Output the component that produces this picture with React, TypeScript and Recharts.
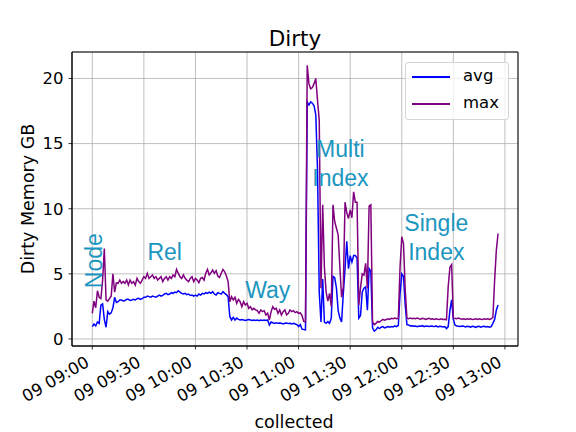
import {
  LineChart,
  Line,
  XAxis,
  YAxis,
  CartesianGrid,
  ReferenceArea,
  ReferenceDot,
} from 'recharts';

// samples are one minute apart, starting 09:00
const startMinute = 0;
const sampleMinutes = 1;

const tickMinutes = [0, 30, 60, 90, 120, 150, 180, 210, 240];
const tickLabels = [
  '09 09:00',
  '09 09:30',
  '09 10:00',
  '09 10:30',
  '09 11:00',
  '09 11:30',
  '09 12:00',
  '09 12:30',
  '09 13:00',
];
const yTicks = [0, 5, 10, 15, 20];

const avgGB = [
  // node
  0.94, 1.15, 1.0, 1.3, 1.2, 2.6, 2.7, 1.5, 0.9, 2.1, 1.9, 2.0, 2.4, 3.2, 2.8,
  // rel
  2.86, 2.99, 2.99, 2.92, 2.95, 3.04, 3.04, 2.95, 2.99, 3.04, 2.99, 3.09, 3.12, 3.04, 3.09,
  3.2, 3.2, 3.29, 3.25, 3.2, 3.29, 3.25, 3.2, 3.29, 3.37, 3.29, 3.34, 3.45, 3.5, 3.4,
  3.45, 3.55, 3.5, 3.6, 3.55, 3.7, 3.6, 3.5, 3.45, 3.5, 3.4, 3.45, 3.34, 3.37, 3.29,
  3.37, 3.29, 3.45, 3.37, 3.5, 3.45, 3.55, 3.5, 3.6, 3.5, 3.63, 3.45, 3.37, 3.55, 3.5,
  3.45, 3.63, 3.5, 3.4, 3.25,
  // way
  1.71, 1.46, 1.66, 1.46, 1.6, 1.5, 1.46, 1.5, 1.46, 1.42, 1.46, 1.5, 1.46, 1.42, 1.46,
  1.42, 1.46, 1.4, 1.46, 1.42, 1.46, 1.42, 1.46, 1.07, 1.3, 1.25, 1.2, 1.25, 1.2, 1.22,
  1.2, 1.15, 1.2, 1.22, 1.18, 1.2, 1.15, 1.2, 1.15, 1.1, 0.97, 1.1, 0.75, 0.72, 0.7,
  // multi index
  18.2, 17.96, 18.2, 18.1, 17.9, 17.2, 13.0, 3.6, 1.3, 4.6, 1.3, 1.2, 1.33, 1.2, 1.6,
  4.8, 4.7, 3.9, 2.2, 1.6, 1.3, 3.5, 5.4, 7.5, 5.4, 6.4, 5.9, 6.4, 6.4, 6.2,
  1.6, 1.8, 3.6, 3.9, 4.0, 2.2, 5.4, 5.2, 0.85, 0.6, 0.7, 0.9, 0.8,
  // single index
  0.9, 0.95, 0.85, 0.9, 0.95, 0.9, 0.95, 0.92, 1.0, 0.95, 1.05,
  3.5, 5.0, 4.8, 2.6, 1.1,
  1.07, 1.0, 1.02, 0.98, 1.0, 0.95, 1.0, 0.98, 1.02, 0.95, 1.0, 0.98, 0.95, 1.0, 0.97,
  0.95, 1.0, 0.93, 0.97, 0.95, 0.92, 0.95, 0.8,
  0.95, 2.2, 3.0, 1.5, 1.05,
  1.0, 0.98, 0.95, 1.0, 0.97, 0.93, 0.98, 0.95, 0.9, 0.97, 0.95, 0.88, 0.95, 0.97, 0.9,
  0.95, 0.98, 0.92, 0.95, 0.9, 0.95,
  1.2, 1.5, 2.2, 2.6,
];

const maxGB = [
  // node
  1.97, 2.9, 2.4, 3.7, 3.2, 3.1, 4.5, 6.95, 3.0, 2.9, 3.1, 3.3, 5.0, 3.6, 4.3,
  // rel
  4.27, 4.52, 4.27, 4.4, 4.27, 4.52, 4.14, 4.52, 4.27, 4.4, 4.14, 4.65, 4.4, 4.27, 4.52,
  4.78, 4.65, 5.04, 4.65, 4.78, 4.91, 4.65, 4.78, 4.52, 4.65, 4.78, 4.4, 4.65, 4.78, 4.52,
  4.78, 4.65, 4.91, 4.78, 5.34, 5.04, 4.78, 4.65, 4.91, 4.65, 4.52, 4.4, 4.65, 4.78, 4.4,
  4.65, 4.52, 4.32, 4.65, 4.72, 4.52, 5.04, 5.34, 4.91, 5.08, 5.29, 5.04, 5.24, 4.83, 4.72,
  5.04, 5.34, 5.16, 4.83, 4.4,
  // way
  2.86, 3.25, 2.99, 3.2, 2.74, 3.04, 2.86, 2.48, 2.86, 2.61, 2.74, 2.35, 2.48, 2.23, 2.35,
  2.23, 2.17, 1.97, 2.23, 2.1, 2.17, 1.84, 1.97, 1.46, 2.1, 2.48, 2.28, 2.35, 1.97, 2.23,
  1.84, 2.1, 2.23, 1.84, 1.97, 2.23, 2.1, 2.17, 2.02, 2.1, 1.97, 2.0, 1.8, 1.35, 1.3,
  // multi index
  21.0, 19.6, 19.2, 19.3, 19.6, 20.0, 18.3, 16.8, 3.9, 10.3, 5.5, 3.6, 2.9, 3.5, 2.5,
  10.3, 9.0, 8.5, 8.0, 5.5, 3.2, 4.0, 10.5, 9.7, 9.25, 9.9, 9.3, 11.3, 10.5, 10.5,
  2.6, 3.9, 5.0, 4.9, 5.8, 3.9, 10.2, 10.3, 1.3, 1.1, 1.2, 1.35, 1.3,
  // single index
  1.4, 1.5, 1.45, 1.5, 1.55, 1.5, 1.58, 1.55, 1.6, 1.55, 1.6,
  5.5, 7.85, 7.3, 3.8, 1.6,
  1.55, 1.6, 1.55, 1.58, 1.55, 1.6, 1.55, 1.52, 1.58, 1.55, 1.5, 1.55, 1.58, 1.52, 1.55,
  1.5, 1.55, 1.52, 1.5, 1.55, 1.5, 1.52, 1.48,
  4.0, 5.5, 5.7, 1.6,
  1.58, 1.55, 1.6, 1.55, 1.52, 1.55, 1.5, 1.55, 1.52, 1.55, 1.5, 1.52, 1.55, 1.5, 1.55,
  1.52, 1.5, 1.55, 1.52, 1.55, 1.5, 1.55,
  1.65, 4.5, 6.8, 8.1,
];

// phase annotations, anchored in data coordinates (minutes, GB)
const phaseNames = ['Node', 'Rel', 'Way', 'Multi\nIndex', 'Single\nIndex'];
const phaseMinutes = [5.5, 32.1, 88.9, 144.3, 200.1];
const phaseGB = [3.9, 6.1, 3.12, 13.98, 8.3];

const seriesNames = ['avg', 'max'];
const seriesColors = ['#0000ff', '#800080'];

const times = avgGB.map((_, i) => startMinute + i * sampleMinutes);
const data = times.map((t, i) => ({ t, avg: avgGB[i], max: maxGB[i] }));

const xDomain = [-11.8, 247.6];
const yDomain = [-0.54, 22.03];
const annotColor = '#1b96c0';
const font = 'DejaVu Sans, sans-serif';
const tickFont = 16.5;

const TimeTick = (props: any) => {
  const { x, y, payload } = props;
  const ax = x - 2;
  const ay = y + 16;
  const label = tickLabels[tickMinutes.indexOf(payload.value)];
  return (
    <text
      x={ax}
      y={ay}
      textAnchor="end"
      fontSize={tickFont}
      fill="#000"
      fontFamily={font}
      transform={`rotate(-30, ${ax}, ${ay})`}
    >
      {label}
    </text>
  );
};

const phaseLabel = (idx: number) => (props: any) => {
  const vb = props.viewBox || {};
  const px = (vb.x ?? 0) + (vb.width ?? 0) / 2;
  const py = (vb.y ?? 0) + (vb.height ?? 0) / 2;
  const lines = phaseNames[idx].split('\n');
  const common = {
    fontSize: 23,
    fill: annotColor,
    fontFamily: 'Liberation Sans, Arial, sans-serif',
  };
  if (idx === 0) {
    return (
      <text x={px} y={py} textAnchor="start" transform={`rotate(-90, ${px}, ${py})`} {...common}>
        {lines[0]}
      </text>
    );
  }
  const anchor = lines.length > 1 ? 'middle' : 'start';
  return (
    <text x={px} y={py} textAnchor={anchor} {...common}>
      {lines.map((l, i) => (
        <tspan key={l} x={px} dy={i === 0 ? 0 : 29}>
          {l}
        </tspan>
      ))}
    </text>
  );
};

const LegendBox = () => (
  <div
    style={{
      position: 'absolute',
      left: 405,
      top: 62,
      width: 104,
      height: 58,
      boxSizing: 'border-box',
      border: '1px solid #d5d5d5',
      borderRadius: 3,
      background: 'rgba(255,255,255,0.8)',
      fontFamily: font,
      fontSize: tickFont,
      color: '#000',
    }}
  >
    {seriesNames.map((name, i) => (
      <div key={name}>
        <div
          style={{
            position: 'absolute',
            left: 6,
            top: 13 + i * 27,
            width: 38,
            height: 2,
            background: seriesColors[i],
          }}
        />
        <div style={{ position: 'absolute', left: 57, top: 3 + i * 27, lineHeight: '20px' }}>
          {name}
        </div>
      </div>
    ))}
  </div>
);

export default function App() {
  return (
    <div style={{ position: 'fixed', left: 0, top: 0, width: 576, height: 432, background: '#fff' }}>
      <LineChart
        width={576}
        height={432}
        data={data}
        margin={{ top: 52, right: 58, bottom: 0, left: 0 }}
        style={{ fontFamily: font }}
      >
        <CartesianGrid stroke="#b0b0b0" strokeWidth={0.8} />
        <XAxis
          dataKey="t"
          type="number"
          domain={xDomain}
          allowDataOverflow
          ticks={tickMinutes}
          height={86}
          tickSize={3.5}
          tickMargin={0}
          tick={<TimeTick />}
          axisLine={{ stroke: '#000', strokeWidth: 0.8 }}
          tickLine={{ stroke: '#000', strokeWidth: 0.8 }}
          interval={0}
        />
        <YAxis
          type="number"
          domain={yDomain}
          allowDataOverflow
          ticks={yTicks}
          width={72}
          tickSize={3.5}
          tickMargin={5}
          tick={{ fontSize: tickFont, fill: '#000', fontFamily: font }}
          axisLine={{ stroke: '#000', strokeWidth: 0.8 }}
          tickLine={{ stroke: '#000', strokeWidth: 0.8 }}
          interval={0}
        />
        {seriesNames.map((name, i) => (
          <Line
            key={name}
            type="linear"
            dataKey={name}
            name={name}
            stroke={seriesColors[i]}
            strokeWidth={1.5}
            dot={false}
            isAnimationActive={false}
          />
        ))}
        {phaseNames.map((name, i) => (
          <ReferenceDot
            key={name}
            x={phaseMinutes[i]}
            y={phaseGB[i]}
            r={1}
            fill="none"
            stroke="none"
            label={phaseLabel(i)}
          />
        ))}
        <ReferenceArea
          x1={xDomain[0]}
          x2={xDomain[1]}
          y1={yDomain[0]}
          y2={yDomain[1]}
          fill="none"
          stroke="#000"
          strokeWidth={1}
          ifOverflow="visible"
        />
      </LineChart>
      <LegendBox />
      <svg
        width={576}
        height={432}
        style={{ position: 'absolute', left: 0, top: 0, pointerEvents: 'none' }}
        fontFamily={font}
      >
        <text x={295} y={46} textAnchor="middle" fontSize={21.5} fill="#000">
          Dirty
        </text>
        <text x={294} y={428} textAnchor="middle" fontSize={17.5} fill="#000">
          collected
        </text>
        <text
          x={34}
          y={199}
          textAnchor="middle"
          fontSize={17.5}
          fill="#000"
          transform="rotate(-90, 34, 199)"
        >
          Dirty Memory GB
        </text>
      </svg>
    </div>
  );
}
